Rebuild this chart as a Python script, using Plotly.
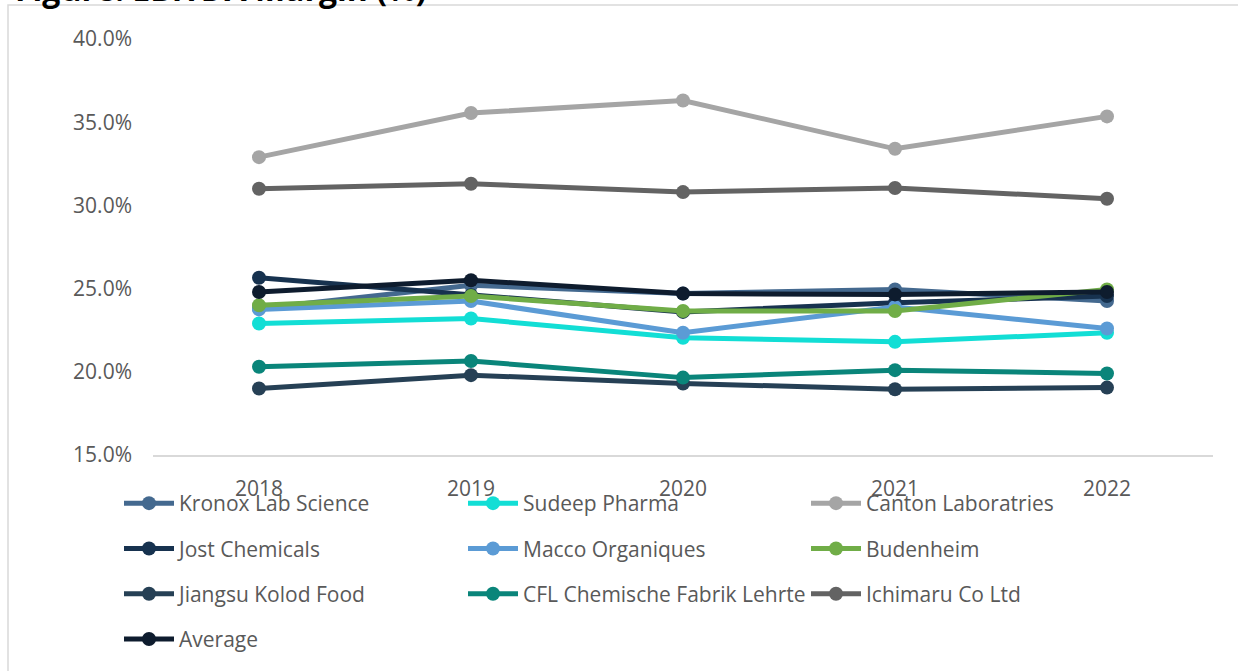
import plotly.graph_objects as go

years = ["2018", "2019", "2020", "2021", "2022"]

kronox = [23.8, 25.2, 24.7, 24.95, 24.25]
sudeep = [22.9, 23.2, 22.05, 21.8, 22.35]
canton = [32.9, 35.55, 36.3, 33.4, 35.35]
jost = [25.65, 24.6, 23.6, 24.15, 24.55]
macco = [23.75, 24.25, 22.35, 23.9, 22.6]
budenheim = [24.0, 24.55, 23.65, 23.65, 24.95]
jiangsu = [19.0, 19.8, 19.3, 18.95, 19.05]
cfl = [20.3, 20.65, 19.65, 20.1, 19.9]
ichimaru = [31.0, 31.3, 30.8, 31.05, 30.4]
average = [24.8, 25.5, 24.7, 24.65, 24.8]

series = [
    ("Kronox Lab Science", kronox, "#44698F", "legend"),
    ("Sudeep Pharma", sudeep, "#12DED5", "legend2"),
    ("Canton Laboratries", canton, "#A5A5A5", "legend3"),
    ("Jost Chemicals", jost, "#17324F", "legend"),
    ("Macco Organiques", macco, "#5B9BD5", "legend2"),
    ("Budenheim", budenheim, "#70AD47", "legend3"),
    ("Jiangsu Kolod Food", jiangsu, "#264055", "legend"),
    ("CFL Chemische Fabrik Lehrte", cfl, "#0A857A", "legend2"),
    ("Ichimaru Co Ltd", ichimaru, "#636363", "legend3"),
    ("Average", average, "#0E1C2E", "legend"),
]

FONT = "Open Sans"
GREY = "#595959"

fig = go.Figure()
for i, (name, vals, color, lg) in enumerate(series):
    fig.add_trace(go.Scatter(
        x=years, y=vals, name=name, mode="lines+markers",
        line=dict(color=color, width=5),
        marker=dict(color=color, size=14),
        legend=lg, legendgroup=f"g{i}",
    ))

W, H = 1238, 671
L, R, T, B = 153, 25, 39, 215
pw, ph = W - L - R, H - T - B

def px_x(p):
    return (p - L) / pw

def px_y(p):
    return (H - B - p) / ph

legend_common = dict(
    orientation="v", traceorder="grouped", tracegroupgap=15,
    bgcolor="rgba(0,0,0,0)", font=dict(family=FONT, size=21, color=GREY),
    itemwidth=50, xanchor="left", yanchor="top", y=px_y(483),
)

fig.update_layout(
    width=W, height=H,
    margin=dict(l=L, r=R, t=T, b=B),
    paper_bgcolor="white", plot_bgcolor="white",
    font=dict(family=FONT, size=21, color=GREY),
    xaxis=dict(
        type="category", range=[-0.5, 4.5], autorange=False,
        showgrid=False, zeroline=False, automargin=False,
        showline=True, linecolor="#D9D9D9", linewidth=1.5,
        ticks="", ticklabelstandoff=14,
        tickfont=dict(family=FONT, size=21, color=GREY),
    ),
    yaxis=dict(
        range=[15, 40], dtick=5, tickformat=".1f", ticksuffix="%",
        showgrid=False, zeroline=False, showline=False, ticks="",
        ticklabelstandoff=20, automargin=False,
        tickfont=dict(family=FONT, size=21, color=GREY),
    ),
    legend=dict(legend_common, x=px_x(119)),
    legend2=dict(legend_common, x=px_x(463)),
    legend3=dict(legend_common, x=px_x(806)),
    shapes=[dict(
        type="rect", xref="paper", yref="paper",
        x0=px_x(8), x1=px_x(1250), y0=px_y(690), y1=px_y(5),
        line=dict(color="#D9D9D9", width=1.5), fillcolor="rgba(0,0,0,0)",
        layer="below",
    )],
    annotations=[dict(
        text="<b>Figure: EBITDA Margin (%)</b>", xref="paper", yref="paper",
        x=px_x(13), y=px_y(-12), xanchor="left", yanchor="middle",
        showarrow=False, font=dict(family=FONT, size=32, color="#000000"),
    )],
)

fig.write_html(
    "out.html",
    config={"displayModeBar": False},
    post_script="document.body.style.margin='0';document.body.style.overflow='hidden';",
)
